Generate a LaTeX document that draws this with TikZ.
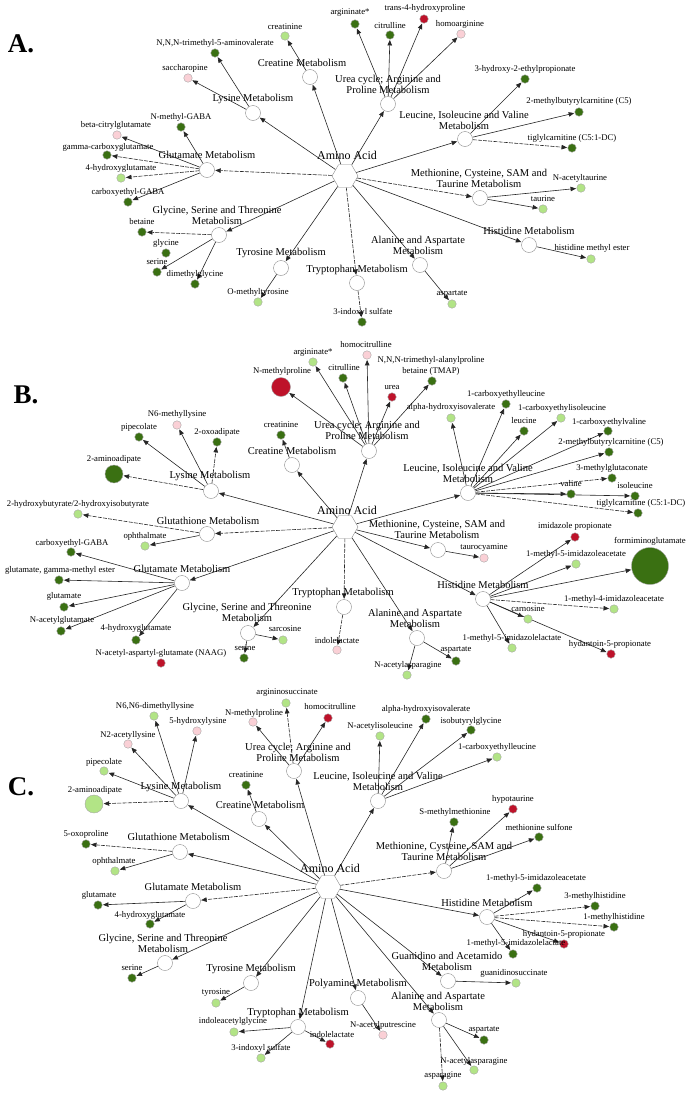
\documentclass[tikz,border=0pt]{standalone}
\usepackage{fontspec}
\setmainfont{Liberation Serif}
\usetikzlibrary{arrows.meta}
\usetikzlibrary{shapes.geometric}
\usetikzlibrary{backgrounds}
\definecolor{dk}{RGB}{58,112,18}
\definecolor{lt}{RGB}{178,228,134}
\definecolor{rd}{RGB}{190,18,42}
\definecolor{pk}{RGB}{250,208,214}
\tikzset{%
  myedge/.style={->, shorten >=0.5pt, >={Triangle[length=5.5pt,width=4.5pt]}, line width=0.6pt, draw=black!85},
  dashedge/.style={myedge, dash pattern=on 4pt off 1.2pt},
  hubnode/.style={regular polygon, regular polygon sides=6, draw=black!45, fill=white, minimum size=26pt, inner sep=0pt},
  catnode/.style={circle, draw=black!45, fill=white, minimum size=15pt, inner sep=0pt},
  metnode/.style={circle, draw=black!35, fill=#1, minimum size=8.5pt, inner sep=0pt},
  cattext/.style={font=\fontsize{10.5}{11}\selectfont, align=center, inner sep=0pt},
  mettext/.style={font=\fontsize{8.7}{10.5}\selectfont, align=center, inner sep=0pt},
  hubtext/.style={font=\fontsize{12}{13}\selectfont, inner sep=0pt},
  paneltext/.style={font=\fontsize{27}{30}\selectfont\bfseries, inner sep=0pt}
}
\begin{document}
\begin{tikzpicture}[x=1pt, y=-1pt]
\useasboundingbox (0,0) rectangle (690,1095);

% panel letters
\node[paneltext] (labA) at (21,44) {A.};
\node[paneltext] (labB) at (26,395) {B.};
\node[paneltext] (labC) at (21,787) {C.};

% hubs
\node[hubnode] (hubA) at (345,176) {};
\node[hubtext] (hubA-t) at (347,155) {Amino Acid};
\node[hubnode] (hubB) at (345,527) {};
\node[hubtext] (hubB-t) at (347,510) {Amino Acid};
\node[hubnode] (hubC) at (328,887) {};
\node[hubtext] (hubC-t) at (330,868) {Amino Acid};

% pathways
\foreach \nm/\x/\y/\lx/\ly/\txt in {
  creaA/310/77/302/63/{Creatine Metabolism},
  lysA/253/113/253/99/{Lysine Metabolism},
  ureaA/388/104/388/84/{Urea cycle; Arginine and\\Proline Metabolism},
  leuA/465/139/464/120/{Leucine, Isoleucine and Valine\\Metabolism},
  gluA/207/170/207/155/{Glutamate Metabolism},
  glyA/219/235/217/215/{Glycine, Serine and Threonine\\Metabolism},
  tyrA/281/268/281/253/{Tyrosine Metabolism},
  trpA/357/283/357/270/{Tryptophan Metabolism},
  alaA/420/265/418/245/{Alanine and Aspartate\\Metabolism},
  hisA/529/245/529/231/{Histidine Metabolism},
  metA/480/198/479/178/{Methionine, Cysteine, SAM and\\Taurine Metabolism},
  lysB/211/491/210/476/{Lysine Metabolism},
  creaB/292/465/292/451/{Creatine Metabolism},
  ureaB/369/451/367/430/{Urea cycle; Arginine and\\Proline Metabolism},
  leuB/468/493/468/473/{Leucine, Isoleucine and Valine\\Metabolism},
  metB/438/550/437/529/{Methionine, Cysteine, SAM and\\Taurine Metabolism},
  hisB/483/599/483/585/{Histidine Metabolism},
  alaB/417/638/415/618/{Alanine and Aspartate\\Metabolism},
  trpB/344/607/343/593/{Tryptophan Metabolism},
  glyB/248/633/247/612/{Glycine, Serine and Threonine\\Metabolism},
  gluB/182/583/182/569/{Glutamate Metabolism},
  gthB/207/534/208/521/{Glutathione Metabolism},
  lysC/181/801/181/787/{Lysine Metabolism},
  creaC/259/819/260/805/{Creatine Metabolism},
  ureaC/294/771/298/752/{Urea cycle; Arginine and\\Proline Metabolism},
  leuC/378/801/378/781/{Leucine, Isoleucine and Valine\\Metabolism},
  metC/444/871/444/851/{Methionine, Cysteine, SAM and\\Taurine Metabolism},
  hisC/487/917/487/903/{Histidine Metabolism},
  guaC/448/981/447/961/{Guanidino and Acetamido\\Metabolism},
  alaC/439/1020/438/1001/{Alanine and Aspartate\\Metabolism},
  polC/358/998/358/984/{Polyamine Metabolism},
  trpC/298/1027/298/1013/{Tryptophan Metabolism},
  tyrC/251/983/251/969/{Tyrosine Metabolism},
  glyC/165/963/163/943/{Glycine, Serine and Threonine\\Metabolism},
  gluC/193/901/193/887/{Glutamate Metabolism},
  gthC/180/852/180/837/{Glutathione Metabolism}
}{
  \node[catnode] (\nm) at (\x,\y) {};
  \node[cattext] (\nm-t) at (\lx,\ly) {\txt};
}

% metabolites
\foreach \nm/\x/\y/\col/\lx/\ly/\txt in {
  crnA/285/36/lt/285/27/{creatinine},
  tmvA/215/53/dk/215/43/{N,N,N-trimethyl-5-aminovalerate},
  sacA/188/78/pk/185/68/{saccharopine},
  argA/355/24/dk/350/13/{argininate*},
  citA/390/35/dk/390/26/{citrulline},
  hypA/424/19/rd/425/8/{trans-4-hydroxyproline},
  hagA/461/34/pk/460/24/{homoarginine},
  hepA/525/79/dk/525/69/{3-hydroxy-2-ethylpropionate},
  mbcA/579/112/dk/579/101/{2-methylbutyrylcarnitine (C5)},
  tigA/572/148/dk/572/138/{tiglylcarnitine (C5:1-DC)},
  nmgA/181/127/dk/181/117/{N-methyl-GABA},
  bcgA/117/135/pk/116/125/{beta-citrylglutamate},
  gcgA/107/155/dk/108/147/{gamma-carboxyglutamate},
  hglA/121/178/lt/121/168/{4-hydroxyglutamate},
  cegA/128/202/dk/128/192/{carboxyethyl-GABA},
  betA/142/232/dk/142/222/{betaine},
  glnA/166/253/dk/166/243/{glycine},
  serA/157/272/dk/157/262/{serine},
  dmgA/195/284/dk/195/274/{dimethylglycine},
  omtA/258/302/lt/258/292/{O-methyltyrosine},
  ixsA/362/322/dk/363/312/{3-indoxyl sulfate},
  aspA/452/304/lt/452/294/{aspartate},
  hmeA/591/259/lt/592/248/{histidine methyl ester},
  natA/581/188/lt/580/178/{N-acetyltaurine},
  tauA/543/209/lt/543/199/{taurine},
  pipB/139/437/dk/139/427/{pipecolate},
  nmlB/177/425/pk/177/414/{N6-methyllysine},
  oxaB/217/442/dk/217/432/{2-oxoadipate},
  crnB/281/435/dk/281/425/{creatinine},
  argB/313/362/lt/313/353/{argininate*},
  citB/343/378/dk/344/368/{citrulline},
  hciB/367/355/pk/366/345/{homocitrulline},
  ureB/392/397/rd/392/387/{urea},
  tmapB/432/381/dk/431/366/{N,N,N-trimethyl-alanylproline\\betaine (TMAP)},
  ahvB/451/418/lt/451/407/{alpha-hydroxyisovalerate},
  celB/506/404/dk/506/394/{1-carboxyethylleucine},
  lcnB/524/431/dk/524/421/{leucine},
  ceiB/561/418/lt/562/408/{1-carboxyethylisoleucine},
  cevB/608/431/dk/609/422/{1-carboxyethylvaline},
  mbcB/609/452/dk/611/442/{2-methylbutyrylcarnitine (C5)},
  mgcB/612/478/dk/612/468/{3-methylglutaconate},
  valB/571/494/dk/571/484/{valine},
  ileB/635/496/dk/635/486/{isoleucine},
  tigB/638/513/dk/641/503/{tiglylcarnitine (C5:1-DC)},
  tcyB/484/558/pk/484/548/{taurocyamine},
  impB/575/537/rd/575/526/{imidazole propionate},
  miaB/576/564/lt/576/554/{1-methyl-5-imidazoleacetate},
  mi4B/614/609/lt/614/599/{1-methyl-4-imidazoleacetate},
  carB/528/619/lt/528/609/{carnosine},
  hydB/611/654/rd/610/644/{hydantoin-5-propionate},
  milB/512/648/lt/512/638/{1-methyl-5-imidazolelactate},
  aspB/456/661/dk/456/650/{aspartate},
  naaB/407/675/lt/408/665/{N-acetylasparagine},
  ilaB/337/650/pk/337/641/{indolelactate},
  sarB/283/640/lt/285/629/{sarcosine},
  serB/244/658/dk/245/648/{serine},
  cegB/71/552/dk/72/543/{carboxyethyl-GABA},
  gmeB/59/580/dk/60/570/{glutamate, gamma-methyl ester},
  gltB/64/607/dk/64/596/{glutamate},
  naglB/61/631/dk/62/620/{N-acetylglutamate},
  hglB/136/640/dk/136/628/{4-hydroxyglutamate},
  naagB/161/663/rd/161/653/{N-acetyl-aspartyl-glutamate (NAAG)},
  ophB/145/546/lt/145/536/{ophthalmate},
  pipC/104/771/lt/104/762/{pipecolate},
  nalC/128/744/pk/128/735/{N2-acetyllysine},
  dmlC/154/716/lt/155/706/{N6,N6-dimethyllysine},
  hylC/197/731/pk/198/721/{5-hydroxylysine},
  crnC/246/785/dk/246/775/{creatinine},
  nmpC/253/722/pk/254/713/{N-methylproline},
  asuC/286/703/lt/287/693/{argininosuccinate},
  hciC/328/718/rd/330/707/{homocitrulline},
  naiC/380/736/lt/380/726/{N-acetylisoleucine},
  ahvC/426/719/dk/426/709/{alpha-hydroxyisovalerate},
  ibgC/471/730/dk/471/721/{isobutyrylglycine},
  celC/497/757/lt/497/747/{1-carboxyethylleucine},
  smmC/454/822/dk/455/812/{S-methylmethionine},
  hytC/513/809/rd/513/799/{hypotaurine},
  msuC/539/837/dk/539/827/{methionine sulfone},
  miaC/537/888/dk/536/878/{1-methyl-5-imidazoleacetate},
  mh3C/595/906/dk/595/896/{3-methylhistidine},
  mh1C/614/927/dk/614/917/{1-methylhistidine},
  hydC/564/944/rd/564/934/{hydantoin-5-propionate},
  milC/513/954/dk/516/943/{1-methyl-5-imidazolelactate},
  gsaC/516/983/lt/514/973/{guanidinosuccinate},
  aspC/484/1040/dk/484/1030/{aspartate},
  naaC/474/1070/lt/474/1061/{N-acetylasparagine},
  asnC/443/1086/lt/443/1076/{asparagine},
  napC/383/1035/pk/383/1025/{N-acetylputrescine},
  iagC/234/1032/lt/233/1021/{indoleacetylglycine},
  ixsC/261/1058/lt/261/1048/{3-indoxyl sulfate},
  ilaC/330/1044/rd/332/1035/{indolelactate},
  tysC/216/1003/lt/216/993/{tyrosine},
  serC/132/978/dk/132/968/{serine},
  gltC/98/905/dk/99/895/{glutamate},
  hglC/150/924/dk/150/915/{4-hydroxyglutamate},
  oxpC/86/844/dk/86/834/{5-oxoproline},
  ophC/115/871/lt/115/861/{ophthalmate}
}{
  \node[metnode=\col] (\nm) at (\x,\y) {};
  \node[mettext] (\nm-t) at (\lx,\ly) {\txt};
}

% big ones
\node[metnode=dk, minimum size=18pt] (aadB) at (114,474) {};
\node[mettext] (aadB-t) at (114,459) {2-aminoadipate};
\node[metnode=rd, minimum size=19pt] (nmpB) at (281,387) {};
\node[mettext] (nmpB-t) at (282,371) {N-methylproline};
\node[metnode=dk, minimum size=37pt] (figB) at (650,566) {};
\node[mettext] (figB-t) at (650,541) {formiminoglutamate};
\node[metnode=lt, minimum size=18pt] (aadC) at (94,804) {};
\node[mettext] (aadC-t) at (95,790) {2-aminoadipate};
\node[metnode=lt] (hbB) at (78,514) {};
\node[mettext] (hbB-t) at (78,504) {2-hydroxybutyrate/2-hydroxyisobutyrate};

\begin{scope}[on background layer]
\foreach \a/\b in {hubA/creaA, hubA/lysA, hubA/ureaA, hubA/leuA, hubA/glyA, hubA/tyrA, hubA/alaA, hubA/hisA,
  creaA/crnA, lysA/tmvA, lysA/sacA, ureaA/argA, ureaA/citA, ureaA/hypA, ureaA/hagA, leuA/hepA, leuA/mbcA,
  gluA/nmgA, gluA/bcgA, gluA/cegA, glyA/serA, glyA/dmgA, tyrA/omtA, alaA/aspA, hisA/hmeA, metA/natA, metA/tauA,
  hubB/lysB, hubB/creaB, hubB/ureaB, hubB/leuB, hubB/metB, hubB/hisB, hubB/alaB, hubB/glyB, hubB/gluB,
  lysB/pipB, lysB/nmlB, creaB/crnB, ureaB/nmpB, ureaB/argB, ureaB/citB, ureaB/hciB, ureaB/ureB, ureaB/tmapB,
  leuB/ahvB, leuB/celB, leuB/lcnB, leuB/ceiB, leuB/cevB, leuB/mbcB, leuB/valB, leuB/ileB,
  metB/tcyB, hisB/impB, hisB/miaB, hisB/figB, hisB/carB, hisB/hydB, hisB/milB,
  alaB/aspB, alaB/naaB, glyB/sarB, glyB/serB, gluB/cegB, gluB/gmeB, gluB/gltB, gluB/naglB, gluB/hglB, gthB/ophB,
  hubC/lysC, hubC/creaC, hubC/ureaC, hubC/leuC, hubC/hisC, hubC/guaC, hubC/alaC, hubC/polC, hubC/trpC,
  hubC/tyrC, hubC/glyC, hubC/gthC,
  lysC/pipC, lysC/nalC, lysC/dmlC, lysC/hylC, creaC/crnC, ureaC/nmpC, ureaC/hciC,
  leuC/naiC, leuC/ahvC, leuC/ibgC, leuC/celC, metC/smmC, metC/hytC, metC/msuC,
  hisC/miaC, hisC/hydC, hisC/milC, guaC/gsaC, alaC/aspC, alaC/naaC, polC/napC,
  trpC/iagC, trpC/ixsC, trpC/ilaC, tyrC/tysC, glyC/serC, gluC/gltC, gluC/hglC, gthC/ophC}
  \draw[myedge] (\a) -- (\b);

\foreach \a/\b in {hubA/gluA, hubA/trpA, hubA/metA, gluA/gcgA, gluA/hglA, glyA/betA, leuA/tigA, trpA/ixsA,
  hubB/gthB, hubB/trpB, lysB/aadB, lysB/oxaB, leuB/mgcB, leuB/tigB, hisB/mi4B, trpB/ilaB, gthB/hbB,
  hubC/gluC, hubC/metC, lysC/aadC, ureaC/asuC, hisC/mh3C, hisC/mh1C, alaC/asnC, gthC/oxpC}
  \draw[dashedge] (\a) -- (\b);
\end{scope}

\end{tikzpicture}
\end{document}
